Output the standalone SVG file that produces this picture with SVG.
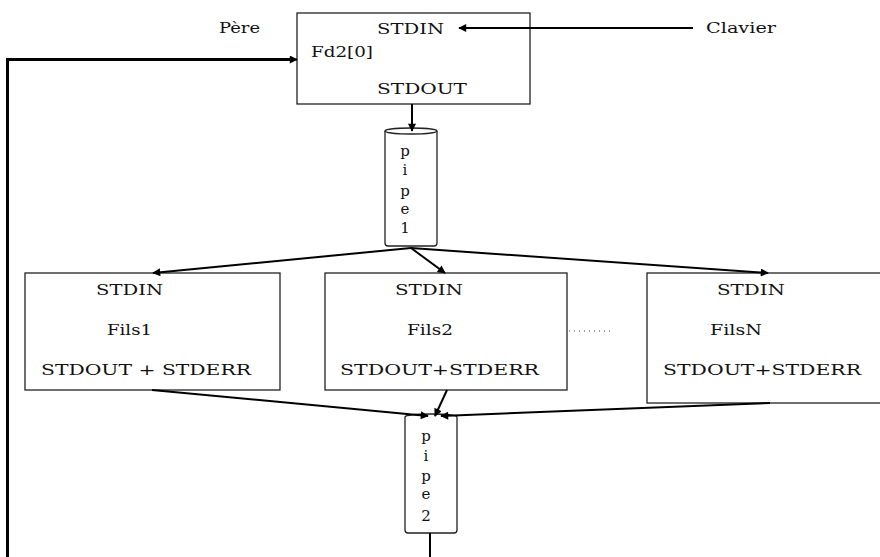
<svg xmlns="http://www.w3.org/2000/svg" width="880" height="557" viewBox="0 0 880 557">
  <style>
    .box { fill: #fff; stroke: #222; stroke-width: 1.3; }
    .pipe { fill: #fff; stroke: #222; stroke-width: 1.3; }
    .lbl { font-family: "DejaVu Serif", "Liberation Serif", serif; font-size: 15px; fill: #111; }
    .mid { text-anchor: middle; }
    .edge { fill: none; stroke: #000; stroke-width: 2; }
    .thick { fill: none; stroke: #000; stroke-width: 3; }
  </style>
  <defs>
    <marker id="headS" viewBox="0 0 10 10" refX="9" refY="5" markerWidth="13" markerHeight="8" markerUnits="userSpaceOnUse" orient="auto">
      <path d="M0,0 L10,5 L0,10 z" fill="#000"/>
    </marker>
  </defs>

  <rect width="880" height="557" fill="#fff"/>

  <!-- loose labels -->
  <text class="lbl" x="219" y="33" textLength="41" lengthAdjust="spacingAndGlyphs">Père</text>
  <text class="lbl" x="706" y="33" textLength="70" lengthAdjust="spacingAndGlyphs">Clavier</text>

  <!-- parent process -->
  <g id="pere">
    <rect class="box" x="297" y="13" width="233" height="91"/>
    <text class="lbl" x="377" y="34" textLength="67" lengthAdjust="spacingAndGlyphs">STDIN</text>
    <text class="lbl" x="311" y="57" textLength="62" lengthAdjust="spacingAndGlyphs">Fd2[0]</text>
    <text class="lbl" x="377" y="94" textLength="90" lengthAdjust="spacingAndGlyphs">STDOUT</text>
  </g>

  <!-- first pipe -->
  <g id="pipe1">
    <path class="pipe" d="M385,131 A26,3 0 0 1 437,131 L437,243 Q437,246 434,246 L388,246 Q385,246 385,243 Z"/>
    <path class="pipe" d="M385,131 A26,3 0 0 0 437,131" fill="none"/>
    <text class="lbl mid" x="405" y="156">p</text>
    <text class="lbl mid" x="405" y="175">i</text>
    <text class="lbl mid" x="405" y="196">p</text>
    <text class="lbl mid" x="405" y="214">e</text>
    <text class="lbl mid" x="405" y="233">1</text>
  </g>

  <!-- child processes -->
  <g id="fils1">
    <rect class="box" x="25" y="273" width="255" height="117"/>
    <text class="lbl" x="96" y="295" textLength="67" lengthAdjust="spacingAndGlyphs">STDIN</text>
    <text class="lbl" x="107" y="335" textLength="45" lengthAdjust="spacingAndGlyphs">Fils1</text>
    <text class="lbl" x="41" y="375" textLength="210" lengthAdjust="spacingAndGlyphs">STDOUT + STDERR</text>
  </g>
  <g id="fils2">
    <rect class="box" x="325" y="273" width="242" height="117"/>
    <text class="lbl" x="395" y="295" textLength="68" lengthAdjust="spacingAndGlyphs">STDIN</text>
    <text class="lbl" x="407" y="335" textLength="46" lengthAdjust="spacingAndGlyphs">Fils2</text>
    <text class="lbl" x="340" y="375" textLength="199" lengthAdjust="spacingAndGlyphs">STDOUT+STDERR</text>
  </g>
  <g id="filsN">
    <rect class="box" x="647" y="273" width="240" height="130"/>
    <text class="lbl" x="717" y="295" textLength="68" lengthAdjust="spacingAndGlyphs">STDIN</text>
    <text class="lbl" x="710" y="335" textLength="52" lengthAdjust="spacingAndGlyphs">FilsN</text>
    <text class="lbl" x="663" y="375" textLength="198" lengthAdjust="spacingAndGlyphs">STDOUT+STDERR</text>
  </g>
  <line x1="569" y1="331" x2="613" y2="331" stroke="#444" stroke-width="1" stroke-dasharray="1 4"/>

  <!-- second pipe -->
  <g id="pipe2">
    <path class="pipe" d="M405,417 A26,3 0 0 1 457,417 L457,530 Q457,533 454,533 L408,533 Q405,533 405,530 Z"/>
    <text class="lbl mid" x="426" y="441">p</text>
    <text class="lbl mid" x="426" y="461">i</text>
    <text class="lbl mid" x="426" y="481">p</text>
    <text class="lbl mid" x="426" y="499">e</text>
    <text class="lbl mid" x="426" y="521">2</text>
  </g>

  <!-- connectors -->
  <g id="connectors">
    <line class="edge" x1="693" y1="28" x2="459" y2="28" marker-end="url(#headS)"/>
    <line class="edge" x1="412" y1="104" x2="412" y2="131" marker-end="url(#headS)"/>
    <line class="edge" x1="411" y1="248" x2="153" y2="273" marker-end="url(#headS)"/>
    <line class="edge" x1="411" y1="248" x2="445" y2="273" marker-end="url(#headS)"/>
    <line class="edge" x1="411" y1="248" x2="768" y2="273" marker-end="url(#headS)"/>
    <line class="edge" x1="152" y1="390" x2="428" y2="416" marker-end="url(#headS)"/>
    <line class="edge" x1="447" y1="390" x2="435" y2="416" marker-end="url(#headS)"/>
    <line class="edge" x1="770" y1="403" x2="441" y2="416" marker-end="url(#headS)"/>
    <line class="edge" x1="430" y1="533" x2="430" y2="557"/>
    <polyline class="thick" points="7.5,557 7.5,59.5 290,59.5"/>
    <line class="edge" x1="280" y1="59.5" x2="297" y2="59.5" marker-end="url(#headS)"/>
  </g>
</svg>
